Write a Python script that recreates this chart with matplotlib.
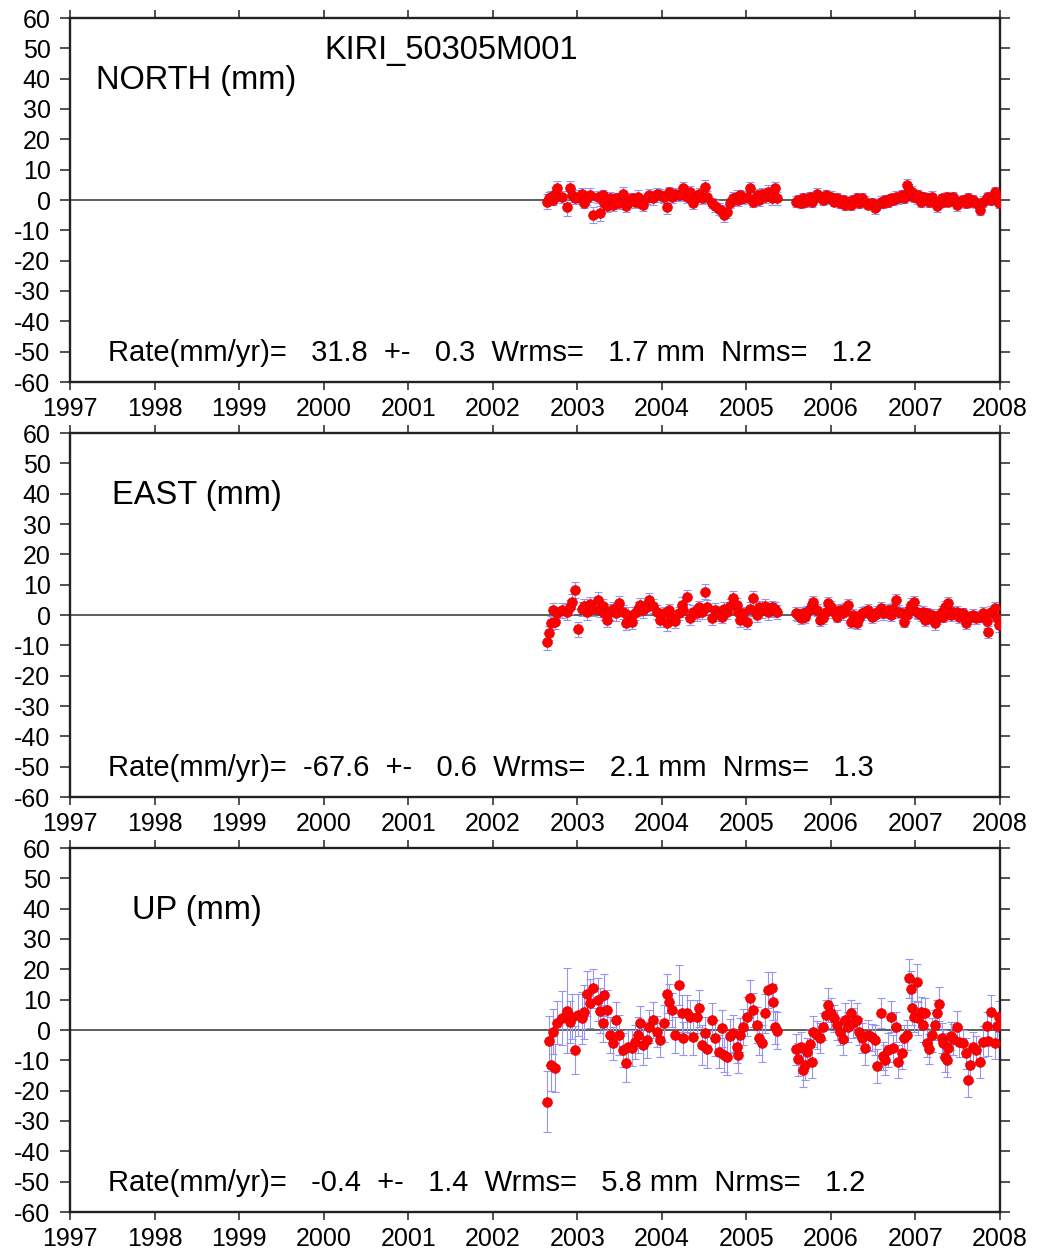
import matplotlib
matplotlib.use("Agg")
import matplotlib.pyplot as plt
import numpy as np

plt.rcParams['font.family'] = ['Liberation Sans', 'DejaVu Sans']
plt.rcParams['axes.unicode_minus'] = False

site = "KIRI_50305M001"
components = ["NORTH (mm)", "EAST (mm)", "UP (mm)"]
rates = [31.8, -67.6, -0.4]
rate_sig = [0.3, 0.6, 1.4]
wrms = [1.7, 2.1, 5.8]
nrms = [1.2, 1.3, 1.2]
years = list(range(1997, 2009))
yticks = list(range(-60, 61, 10))

# decimal year of each solution (gap mid 2005)
epochs = [
    2002.638, 2002.669, 2002.685, 2002.716, 2002.740, 2002.764, 2002.820, 2002.882, 2002.914, 2002.933,
    2002.973, 2003.012, 2003.051, 2003.079, 2003.111, 2003.150, 2003.190, 2003.249, 2003.268, 2003.300,
    2003.319, 2003.347, 2003.387, 2003.418, 2003.458, 2003.497, 2003.537, 2003.576, 2003.603, 2003.643,
    2003.682, 2003.722, 2003.742, 2003.781, 2003.821, 2003.852, 2003.891, 2003.939, 2003.978, 2004.025,
    2004.057, 2004.088, 2004.116, 2004.155, 2004.206, 2004.234, 2004.254, 2004.293, 2004.333, 2004.372,
    2004.412, 2004.439, 2004.471, 2004.510, 2004.538, 2004.589, 2004.628, 2004.680, 2004.707, 2004.735,
    2004.767, 2004.806, 2004.845, 2004.885, 2004.904, 2004.924, 2004.963, 2005.003, 2005.043, 2005.081,
    2005.121, 2005.152, 2005.180, 2005.220, 2005.259, 2005.298, 2005.310, 2005.338, 2005.358,
    2005.587, 2005.614, 2005.642, 2005.674, 2005.693, 2005.713, 2005.752, 2005.772, 2005.792, 2005.831,
    2005.871, 2005.902, 2005.942, 2005.969, 2005.997, 2006.036, 2006.076, 2006.107, 2006.139, 2006.166,
    2006.206, 2006.233, 2006.265, 2006.304, 2006.336, 2006.363, 2006.403, 2006.442, 2006.482, 2006.521,
    2006.549, 2006.588, 2006.612, 2006.639, 2006.679, 2006.710, 2006.738, 2006.765, 2006.797, 2006.837,
    2006.864, 2006.896, 2006.923, 2006.943, 2006.955, 2006.982, 2007.014, 2007.034, 2007.061, 2007.093,
    2007.113, 2007.132, 2007.164, 2007.191, 2007.231, 2007.258, 2007.278, 2007.310, 2007.329, 2007.349,
    2007.369, 2007.389, 2007.416, 2007.448, 2007.495, 2007.519, 2007.558, 2007.597, 2007.625, 2007.645,
    2007.684, 2007.716, 2007.763, 2007.795, 2007.842, 2007.862, 2007.893, 2007.940, 2007.968, 2007.992]

north = [
    -0.5, 0.5, 1.0, 0.0, 2.0, 3.8, 1.0, -2.4, 3.8, 1.5,
    0.5, 1.0, 2.0, -1.0, 0.5, 1.5, -5.0, 1.0, -4.4, 1.5,
    -1.0, -2.0, 0.5, -1.5, 0.5, -1.0, 2.0, -2.0, -0.5, 0.5,
    -0.5, 1.0, -1.0, -1.5, 0.5, 1.5, 0.5, 2.0, 1.5, 1.0,
    -2.4, 2.5, 1.0, 2.0, 1.5, 2.0, 3.8, 1.0, 2.5, -1.0,
    1.0, 2.0, 0.5, 4.4, 1.0, -1.0, -2.0, -3.0, -3.5, -5.0,
    -4.0, -1.0, 0.5, 1.0, 0.0, 1.5, 0.5, 1.0, 3.8, -0.5,
    1.5, 0.0, 2.0, 1.0, 2.5, 0.5, 2.0, 3.8, 0.5,
    -0.5, 0.0, -1.0, 0.5, -0.5, 0.0, 1.0, -0.5, 0.5, 2.0,
    1.0, 0.0, 1.5, 0.5, 1.0, -0.5, 0.5, -1.0, 0.0, -1.5,
    -0.5, -1.6, 0.0, 0.5, -1.0, 0.5, -0.5, -1.5, -1.0, -2.7,
    -1.5, -0.5, -1.0, 0.0, -0.5, 0.5, 0.0, 1.0, 0.5, 1.5,
    0.5, 5.0, 3.3, 1.5, 2.7, 1.0, 0.5, 1.5, -0.5, 1.0,
    0.0, 0.5, -0.5, 1.0, -0.5, -2.0, -1.0, 0.5, -0.5, 0.0,
    1.0, -0.5, 0.5, 1.0, -1.6, -0.5, 0.0, -1.0, 0.5, -0.5,
    0.0, -1.0, -3.3, -0.5, 0.5, 1.0, 0.0, 2.7, 1.0, -1.0]

east = [
    -8.8, -6.0, -2.5, 1.6, -2.2, 0.5, 1.5, 1.1, 2.5, 4.4,
    8.2, -4.7, 2.0, 3.0, 1.0, 3.5, 2.0, 5.0, 1.5, 3.0,
    0.5, -1.6, 1.0, 2.0, 0.5, 3.8, 1.0, -2.7, 0.0, -2.2,
    0.5, 2.0, 3.3, 1.5, 2.5, 5.0, 3.0, 1.0, -1.6, 0.5,
    -2.7, 1.5, -1.0, -2.0, 0.5, 3.3, 1.5, 6.0, -1.1, 1.0,
    0.5, 2.5, 1.0, 7.7, 2.7, -1.1, 1.5, 0.5, -0.5, 2.0,
    1.0, 3.0, 5.5, 3.3, 1.0, -1.6, 0.5, -2.2, 2.0, 5.5,
    0.0, 2.5, 1.5, 3.0, 1.0, 2.5, 1.5, 2.0, 1.0,
    0.5, 0.0, -1.0, 0.5, -0.5, 1.0, 2.0, 3.3, 4.4, 1.6,
    -1.6, -1.1, 1.0, 3.8, 2.7, 1.1, -0.5, 1.5, 0.5, 2.0,
    3.3, -2.2, 0.0, -2.7, -1.0, 0.5, 1.0, 1.6, -0.5, 0.0,
    1.0, 2.2, 0.5, 1.0, 1.6, 0.0, 2.0, 5.0, 1.1, 0.5,
    -2.2, 0.0, 1.5, 3.3, 2.0, 4.4, 1.1, 0.5, 0.0, 1.0,
    -1.6, 0.5, -1.0, 0.0, -2.7, -1.0, 0.0, 1.0, -0.5, 2.7,
    1.5, 3.8, 0.0, 1.0, 1.1, -0.5, 0.5, -2.7, -1.0, -0.5,
    0.0, -1.0, -0.5, 0.5, -2.0, -5.5, 1.1, 2.2, -1.0, -3.3]

up = [
    -23.6, -3.5, -11.5, -0.5, -12.6, 2.4, 4.0, 6.4, 2.7, 4.4,
    -6.6, 5.0, 4.0, 6.0, 12.0, 8.8, 13.7, 10.0, 6.4, 2.2,
    11.5, 6.6, -1.6, -4.4, 3.3, -1.6, -6.6, -11.0, -5.5, -6.0,
    -4.0, -1.6, 2.4, -5.0, -3.3, 1.1, 3.3, -0.5, -3.3, 2.2,
    12.0, 9.3, 6.6, -1.6, 14.8, 5.5, -2.7, 5.5, 4.4, -2.2,
    4.4, 7.1, -5.0, -1.1, -6.4, 3.3, -2.7, -7.1, 0.5, -8.2,
    -8.8, -2.0, -1.1, -5.5, -8.2, -1.6, 1.0, 4.4, 10.4, 6.6,
    1.6, -2.7, -4.4, 5.5, 13.2, 13.7, 9.3, 0.9, -0.2,
    -6.4, -9.7, -5.5, -13.2, -11.5, -7.1, -4.6, -10.4, -0.5, -1.6,
    -2.7, 1.1, 5.0, 8.2, 5.5, 3.8, 1.6, -0.5, -3.1, 3.3,
    0.9, 5.5, 2.2, 3.3, -0.5, -2.7, -6.0, -1.6, -2.4, -3.3,
    -11.9, 5.5, -8.6, -9.9, -6.6, 4.4, -6.0, 0.9, -10.4, -7.7,
    -2.7, -1.6, 17.0, 13.4, 7.1, 4.4, 15.7, 3.8, 6.0, 1.6,
    5.5, -4.4, -6.3, -1.6, 1.6, 5.5, 8.6, -2.7, -4.4, -8.8,
    -9.9, -6.0, -2.0, -3.1, 0.9, -3.8, -4.4, -7.7, -16.5, -11.5,
    -5.5, -6.6, -10.4, -3.8, 1.3, -3.5, 6.0, -4.4, 1.3, 4.4]

north_sig = [
    2.4, 2.0, 2.1, 1.8, 2.2, 2.5, 2.0, 2.8, 2.4, 2.0,
    1.9, 2.2, 2.0, 1.8, 2.1, 2.3, 2.6, 2.0, 2.4, 1.9,
    2.0, 1.8, 2.2, 2.0, 1.9, 2.1, 2.3, 2.0, 1.8, 1.9,
    2.0, 2.2, 1.8, 2.0, 1.9, 2.1, 2.0, 1.8, 2.2, 2.0,
    2.3, 1.9, 2.0, 2.1, 1.8, 2.0, 2.2, 1.9, 2.0, 2.1,
    1.8, 2.0, 1.9, 2.2, 2.0, 1.8, 2.1, 2.0, 1.9, 2.2,
    2.0, 1.8, 2.1, 2.3, 2.0, 1.9, 1.8, 2.0, 2.2, 1.9,
    2.0, 2.1, 1.8, 2.0, 2.3, 2.1, 1.9, 2.0, 2.2,
    1.7, 1.8, 1.6, 1.9, 1.7, 1.8, 1.6, 1.7, 1.9, 1.8,
    1.7, 1.6, 1.8, 1.7, 1.9, 1.6, 1.8, 1.7, 1.6, 1.8,
    1.9, 1.7, 1.6, 1.8, 1.7, 1.9, 1.8, 1.6, 1.7, 1.8,
    1.7, 1.9, 1.6, 1.8, 1.7, 1.6, 1.8, 1.9, 1.7, 1.8,
    1.6, 2.0, 1.9, 1.7, 1.8, 1.6, 1.7, 1.9, 1.8, 1.7,
    1.6, 1.8, 1.7, 1.9, 1.6, 1.8, 1.7, 1.6, 1.9, 1.8,
    1.7, 1.6, 1.8, 1.7, 1.9, 1.8, 1.6, 1.7, 1.8, 1.9,
    1.7, 1.6, 1.8, 1.7, 1.9, 1.8, 1.6, 1.7, 1.9, 1.8]

east_sig = [
    2.8, 2.4, 2.3, 2.2, 2.5, 2.3, 2.4, 2.6, 2.3, 2.5,
    2.7, 2.4, 2.2, 2.3, 2.5, 2.4, 2.2, 2.6, 2.3, 2.4,
    2.2, 2.3, 2.5, 2.2, 2.4, 2.3, 2.2, 2.4, 2.5, 2.3,
    2.2, 2.4, 2.3, 2.5, 2.2, 2.4, 2.3, 2.2, 2.4, 2.3,
    2.5, 2.2, 2.3, 2.4, 2.2, 2.5, 2.3, 2.4, 2.2, 2.3,
    2.4, 2.2, 2.3, 2.5, 2.4, 2.2, 2.3, 2.4, 2.2, 2.3,
    2.4, 2.2, 2.5, 2.3, 2.2, 2.4, 2.3, 2.5, 2.2, 2.4,
    2.3, 2.2, 2.4, 2.3, 2.5, 2.2, 2.3, 2.4, 2.2,
    2.0, 2.1, 1.9, 2.0, 2.2, 1.9, 2.0, 2.1, 2.0, 1.9,
    2.1, 2.0, 1.9, 2.1, 2.0, 2.2, 1.9, 2.0, 2.1, 1.9,
    2.0, 2.1, 1.9, 2.0, 2.2, 2.0, 1.9, 2.1, 2.0, 1.9,
    2.1, 2.0, 2.2, 1.9, 2.0, 2.1, 1.9, 2.0, 2.1, 2.0,
    1.9, 2.1, 2.0, 2.2, 1.9, 2.0, 2.1, 1.9, 2.0, 2.1,
    2.0, 1.9, 2.1, 2.0, 2.2, 1.9, 2.0, 2.1, 1.9, 2.0,
    2.1, 2.0, 1.9, 2.1, 2.0, 2.2, 1.9, 2.0, 2.1, 1.9,
    2.0, 2.1, 1.9, 2.0, 2.2, 2.0, 1.9, 2.1, 2.0, 2.3]

up_sig = [
    10.0, 8.0, 8.5, 7.5, 8.0, 7.0, 9.0, 14.0, 7.0, 7.5,
    8.0, 7.0, 8.5, 9.0, 7.5, 8.0, 6.5, 7.0, 7.5, 6.0,
    7.0, 6.5, 6.0, 5.5, 6.0, 6.5, 5.5, 6.0, 5.5, 6.0,
    5.5, 6.0, 5.5, 6.5, 6.0, 5.5, 6.0, 5.0, 5.5, 6.0,
    6.5, 6.0, 5.5, 6.0, 6.5, 6.0, 5.5, 6.0, 5.5, 6.0,
    5.5, 6.0, 6.5, 5.5, 6.0, 5.5, 6.0, 5.5, 6.0, 5.5,
    6.0, 5.5, 6.0, 5.5, 6.0, 5.5, 6.0, 6.5, 6.0, 5.5,
    6.0, 5.5, 6.0, 6.5, 6.0, 5.5, 6.0, 5.5, 6.0,
    5.0, 5.5, 5.0, 5.5, 5.0, 4.5, 5.0, 5.5, 5.0, 4.5,
    5.0, 4.5, 5.0, 5.5, 5.0, 4.5, 5.0, 4.5, 5.0, 5.5,
    5.0, 4.5, 5.0, 5.5, 4.5, 5.0, 5.5, 5.0, 4.5, 5.0,
    5.5, 5.0, 4.5, 5.0, 5.5, 5.0, 4.5, 5.0, 5.5, 5.0,
    4.5, 5.0, 6.5, 6.0, 5.5, 5.0, 6.0, 5.5, 5.0, 5.5,
    5.0, 4.5, 5.0, 5.5, 5.0, 4.5, 5.5, 5.0, 4.5, 5.0,
    5.5, 5.0, 4.5, 5.0, 5.5, 5.0, 4.5, 5.0, 5.5, 5.5,
    5.0, 4.5, 5.5, 5.0, 4.5, 5.0, 5.5, 5.0, 4.5, 5.0]

series = [north, east, up]
sigmas = [north_sig, east_sig, up_sig]

# axes boxes in figure pixels (top, bottom)
W, H = 1037, 1255
panel_rows = [(18, 382), (433, 797), (848, 1212)]
label_x = [0.028, 0.045, 0.067]


def draw_panel(ax, i):
    ax.errorbar(epochs, series[i], yerr=sigmas[i], fmt='none', ecolor='#9494f5',
                elinewidth=0.8, capsize=3, capthick=0.8, zorder=2)
    ax.plot(epochs, series[i], 'o', color='#ff0000', mec='#e00000', mew=0.5,
            ms=7, zorder=3)
    ax.axhline(0, color='#333333', lw=1.1, zorder=1)

    ax.set_xlim(1997, 2008)
    ax.set_ylim(-60, 60)
    ax.set_xticks(years)
    ax.set_yticks(yticks)
    ax.tick_params(axis='both', direction='out', top=True, right=True,
                   labelsize=18, width=1.1, color='#222222')
    ax.tick_params(axis='x', length=6, pad=5)
    ax.tick_params(axis='y', length=7, pad=7)
    for sp in ax.spines.values():
        sp.set_linewidth(1.7)
        sp.set_color('#222222')

    ax.text(label_x[i], 0.805, components[i], transform=ax.transAxes,
            fontsize=23.5, va='baseline', ha='left')
    rate_txt = "Rate(mm/yr)= %6.1f  +- %5.1f  Wrms= %5.1f mm  Nrms= %5.1f" % (
        rates[i], rate_sig[i], wrms[i], nrms[i])
    ax.text(0.041, 0.058, rate_txt, transform=ax.transAxes,
            fontsize=21, va='baseline', ha='left')
    if i == 0:
        ax.text(0.274, 0.887, site, transform=ax.transAxes,
                fontsize=23.5, va='baseline', ha='left')


def main():
    fig = plt.figure(figsize=(W / 100, H / 100), dpi=100)
    for i, (top, bot) in enumerate(panel_rows):
        ax = fig.add_axes([70 / W, 1 - bot / H, 930 / W, (bot - top) / H])
        draw_panel(ax, i)
    fig.savefig("out.png", dpi=100)


main()
